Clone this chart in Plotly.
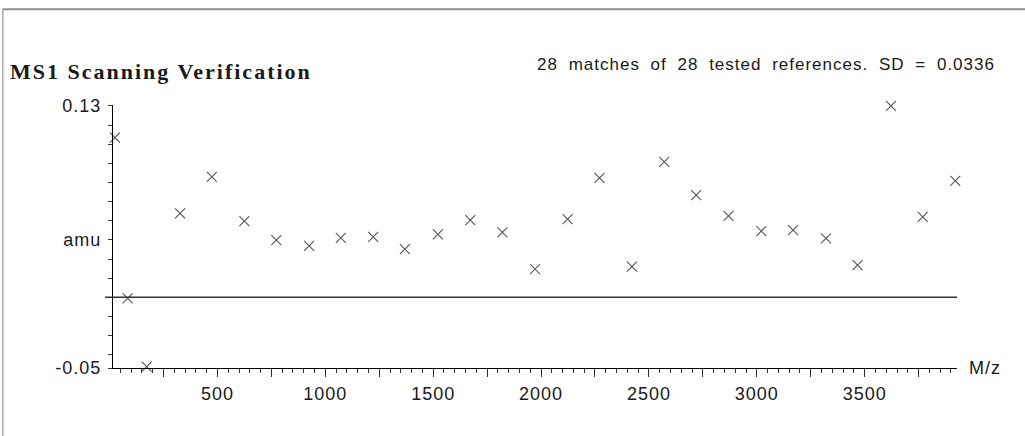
import plotly.graph_objects as go

# M/z of each tested reference and its mass error (amu)
mz = [25, 84, 172, 327, 474, 625, 773, 925, 1072, 1222, 1369, 1522, 1672, 1821,
      1972, 2123, 2271, 2421, 2571, 2719, 2869, 3021, 3168, 3321, 3467, 3622, 3769, 3920]
err = [0.1085, -0.0007, -0.0471, 0.0570, 0.0818, 0.0518, 0.0389, 0.0350, 0.0404, 0.0411,
       0.0328, 0.0427, 0.0524, 0.0441, 0.0192, 0.0531, 0.0811, 0.0208, 0.0920, 0.0694,
       0.0553, 0.0450, 0.0456, 0.0400, 0.0219, 0.1300, 0.0547, 0.0791]

x_range = [16, 3928]
y_range = [-0.048, 0.1306]
x_tickvals = [250, 500, 750, 1000, 1250, 1500, 1750, 2000, 2250, 2500, 2750, 3000, 3250, 3500, 3750]
x_ticktext = ["", "500", "", "1000", "", "1500", "", "2000", "", "2500", "", "3000", "", "3500", ""]
y_tickvals = [-0.048, 0.039, 0.13]
y_ticktext = ["-0.05", "amu", "0.13"]

TITLE = "MS1 Scanning Verification"
SUMMARY = "28 matches of 28 tested references. SD = 0.0336"
SANS = "Liberation Sans, Arial, Helvetica, sans-serif"
SERIF = "Liberation Serif, Times New Roman, serif"
INK = "#1a1a1a"


def spaced(text, letter=1.0, word=0.0):
    return f'<span style="letter-spacing:{letter}px;word-spacing:{word}px">{text}</span>'


fig = go.Figure()
fig.add_trace(
    go.Scatter(
        x=mz,
        y=err,
        mode="markers",
        marker=dict(symbol="x-thin", size=10, line=dict(color="#555555", width=1.1)),
        cliponaxis=False,
        showlegend=False,
    )
)

# zero reference line, slightly past the y axis
fig.add_shape(type="line", xref="paper", yref="y", x0=-0.0095, x1=1, y0=0, y1=0,
              line=dict(color="#333333", width=1.6))
# page frame (top and left edges)
fig.add_shape(type="line", xref="paper", yref="paper", x0=-0.1305, x1=1.09, y0=1.364, y1=1.364,
              line=dict(color="#909090", width=2))
fig.add_shape(type="line", xref="paper", yref="paper", x0=-0.1305, x1=-0.1305, y0=1.364, y1=-0.3,
              line=dict(color="#808080", width=1))

fig.add_annotation(text=spaced(SUMMARY, 1.0, 5), xref="paper", yref="paper", x=1.0478, y=1.155,
                   xanchor="right", yanchor="middle", showarrow=False,
                   font=dict(family=SANS, size=17, color=INK))
fig.add_annotation(text=spaced("M/z", 1), xref="paper", yref="paper", x=1, y=0, xshift=10,
                   xanchor="left", yanchor="middle", showarrow=False,
                   font=dict(family=SANS, size=18, color=INK))

fig.update_layout(
    width=1025,
    height=436,
    margin=dict(l=113, r=68, t=105, b=68),
    paper_bgcolor="white",
    plot_bgcolor="white",
    title=dict(text=spaced(f"<b>{TITLE}</b>", 2), xref="container", x=10 / 1025, xanchor="left",
               y=1 - 71 / 436, yanchor="middle",
               font=dict(family=SERIF, size=22, color=INK)),
    font=dict(family=SANS, size=18, color=INK),
)
fig.update_xaxes(
    range=x_range,
    showgrid=False,
    zeroline=False,
    showline=True,
    linecolor="black",
    linewidth=1.2,
    tickmode="array",
    tickvals=x_tickvals,
    ticktext=[spaced(t, 1) if t else "" for t in x_ticktext],
    ticks="outside",
    ticklen=8,
    tickwidth=1,
    tickcolor="#333333",
    ticklabelstandoff=1,
    minor=dict(dtick=50, tick0=0, ticks="outside", ticklen=4, tickcolor="#333333", showgrid=False),
)
fig.update_yaxes(
    range=y_range,
    showgrid=False,
    zeroline=False,
    showline=True,
    linecolor="black",
    linewidth=1.2,
    tickmode="array",
    tickvals=y_tickvals,
    ticktext=[spaced(t, 1) for t in y_ticktext],
    ticks="outside",
    ticklen=4,
    tickwidth=1,
    tickcolor="#333333",
    ticklabelstandoff=3,
    minor=dict(dtick=0.013, tick0=0, ticks="outside", ticklen=4, tickcolor="#333333", showgrid=False),
)

fig.write_html("out.html", config={"displayModeBar": False},
               post_script="document.body.style.margin='0';")
